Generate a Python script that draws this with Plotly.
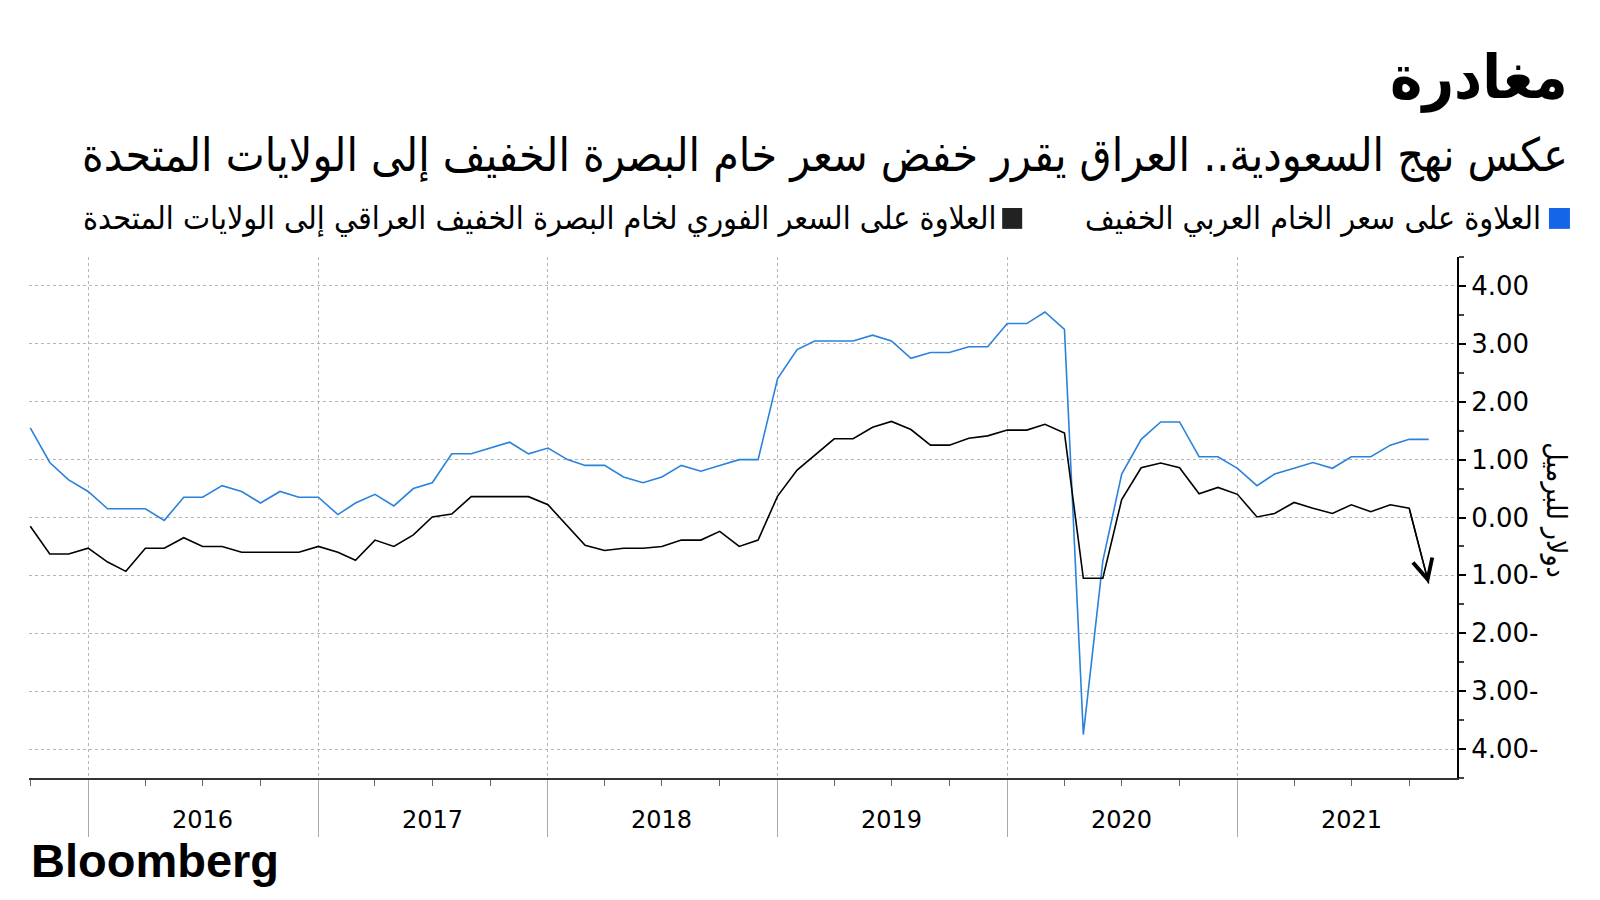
import plotly.graph_objs as go
import pandas as pd

# months from Oct 2015 to Nov 2021
months = pd.date_range("2015-10-01", periods=74, freq="MS")

arab_light = [
    1.55, 0.95, 0.65,
    0.45, 0.15, 0.15, 0.15, -0.05, 0.35, 0.35, 0.55, 0.45, 0.25, 0.45, 0.35,
    0.35, 0.05, 0.25, 0.40, 0.20, 0.50, 0.60, 1.10, 1.10, 1.20, 1.30, 1.10,
    1.20, 1.00, 0.90, 0.90, 0.70, 0.60, 0.70, 0.90, 0.80, 0.90, 1.00, 1.00,
    2.40, 2.90, 3.05, 3.05, 3.05, 3.15, 3.05, 2.75, 2.85, 2.85, 2.95, 2.95,
    3.35, 3.35, 3.55, 3.25, -3.75, -0.75, 0.75, 1.35, 1.65, 1.65, 1.05, 1.05,
    0.85, 0.55, 0.75, 0.85, 0.95, 0.85, 1.05, 1.05, 1.25, 1.35, 1.35,
]

basrah_light = [
    -0.15, -0.63, -0.63,
    -0.53, -0.77, -0.93, -0.53, -0.53, -0.35, -0.50, -0.50, -0.60, -0.60, -0.60, -0.60,
    -0.50, -0.60, -0.74, -0.39, -0.50, -0.30, 0.01, 0.06, 0.36, 0.36, 0.36, 0.36,
    0.22, -0.14, -0.48, -0.57, -0.53, -0.53, -0.50, -0.39, -0.39, -0.24, -0.50, -0.39,
    0.37, 0.82, 1.08, 1.36, 1.36, 1.56, 1.66, 1.52, 1.25, 1.25, 1.37, 1.41,
    1.51, 1.51, 1.61, 1.46, -1.05, -1.05, 0.31, 0.86, 0.94, 0.86, 0.41, 0.52,
    0.40, 0.01, 0.07, 0.26, 0.16, 0.07, 0.22, 0.10, 0.22, 0.16, -1.14,
]

series_names = [
    "العلاوة على سعر الخام العربي الخفيف",
    "العلاوة على السعر الفوري لخام البصرة الخفيف العراقي إلى الولايات المتحدة",
]
years = [2016, 2017, 2018, 2019, 2020, 2021]
y_ticks = [4, 3, 2, 1, 0, -1, -2, -3, -4]
y_ticktext = ["4.00", "3.00", "2.00", "1.00", "0.00", "1.00-", "2.00-", "3.00-", "4.00-"]

title = "مغادرة"
subtitle = "عكس نهج السعودية.. العراق يقرر خفض سعر خام البصرة الخفيف إلى الولايات المتحدة"
y_title = "دولار للبرميل"

ar_font = "DejaVu Sans Condensed, DejaVu Sans, sans-serif"
num_font = "DejaVu Sans, Verdana, sans-serif"
blue_line = "#2b82dc"
blue_box = "#1565e8"

fig = go.Figure()

fig.add_trace(go.Scatter(
    x=months, y=arab_light, mode="lines",
    line=dict(color=blue_line, width=1.6),
    name=series_names[0], showlegend=False
))
fig.add_trace(go.Scatter(
    x=months, y=basrah_light, mode="lines",
    line=dict(color="#000000", width=1.6),
    name=series_names[1], showlegend=False
))

# arrow head on the last black point
fig.add_annotation(
    x=months[-1], y=basrah_light[-1], ax=months[-2], ay=basrah_light[-2],
    xref="x", yref="y", axref="x", ayref="y",
    showarrow=True, arrowhead=5, arrowsize=2.8, arrowwidth=1.4,
    arrowcolor="#000000", text=""
)

# year labels
for yr in years:
    fig.add_annotation(
        x=f"{yr}-07-01", y=-0.08, xref="x", yref="paper",
        text=str(yr), showarrow=False,
        font=dict(family=num_font, size=24, color="#000000"),
        yanchor="middle"
    )

# titles
fig.add_annotation(
    x=1.079, y=1.346, xref="paper", yref="paper", text=f"<b>{title}</b>",
    showarrow=False, xanchor="right", yanchor="middle",
    font=dict(family=ar_font, size=61, color="#000000")
)
fig.add_annotation(
    x=1.079, y=1.194, xref="paper", yref="paper", text=subtitle,
    showarrow=False, xanchor="right", yanchor="middle",
    font=dict(family=ar_font, size=46, color="#000000")
)

# legend (built by hand so the box sits right of the text)
leg = [
    (series_names[0], blue_box, 1.0602, 1.0644, 1.0791),
    (series_names[1], "#222222", 0.6787, 0.6815, 0.6955),
]
for name, col, tx, x0, x1 in leg:
    fig.add_shape(type="rect", xref="paper", yref="paper",
                  x0=x0, x1=x1, y0=1.054, y1=1.094,
                  fillcolor=col, line=dict(width=0))
    fig.add_annotation(
        x=tx, y=1.075, xref="paper", yref="paper", text=name,
        showarrow=False, xanchor="right", yanchor="middle",
        font=dict(family=ar_font, size=32, color="#000000")
    )

# y axis title
fig.add_annotation(
    x=1.083, y=0.514, xref="paper", yref="paper", text=y_title,
    showarrow=False, textangle=90,
    font=dict(family=ar_font, size=28, color="#000000")
)

fig.add_annotation(
    x=0.0, y=-0.158, xref="paper", yref="paper", text="<b>Bloomberg</b>",
    showarrow=False, xanchor="left", yanchor="middle",
    font=dict(family="Liberation Sans, Arial, sans-serif", size=47, color="#000000")
)

# page body has an 8px margin, so pull the plot up/left by that much
fig.update_layout(
    width=1600,
    height=900,
    margin=dict(l=21, r=151, t=249, b=130),
    plot_bgcolor="#ffffff",
    paper_bgcolor="#ffffff",
    showlegend=False,
)

fig.update_xaxes(
    type="date",
    range=["2015-09-29", "2021-12-16"],
    tick0="2016-01-01", dtick="M12",
    showticklabels=False,
    ticks="outside", ticklen=57, tickcolor="#aaaaaa", tickwidth=1,
    showgrid=True, gridcolor="#b5b5b5", griddash="dot", gridwidth=1,
    showline=True, linecolor="#333333", linewidth=2,
    minor=dict(dtick="M3", tick0="2016-01-01", ticks="outside", ticklen=6,
               tickcolor="#666666", showgrid=False),
    zeroline=False,
)

fig.update_yaxes(
    side="right",
    range=[-4.5, 4.5],
    tickmode="array", tickvals=y_ticks, ticktext=y_ticktext,
    ticks="outside", ticklen=7, tickcolor="#000000", tickwidth=2,
    tickfont=dict(family=num_font, size=26, color="#000000"),
    showgrid=True, gridcolor="#b5b5b5", griddash="dot", gridwidth=1,
    showline=True, linecolor="#000000", linewidth=2,
    minor=dict(dtick=0.5, tick0=0, ticks="outside", ticklen=5,
               tickcolor="#444444", showgrid=False),
    zeroline=False,
)

fig.write_html("out.html")
